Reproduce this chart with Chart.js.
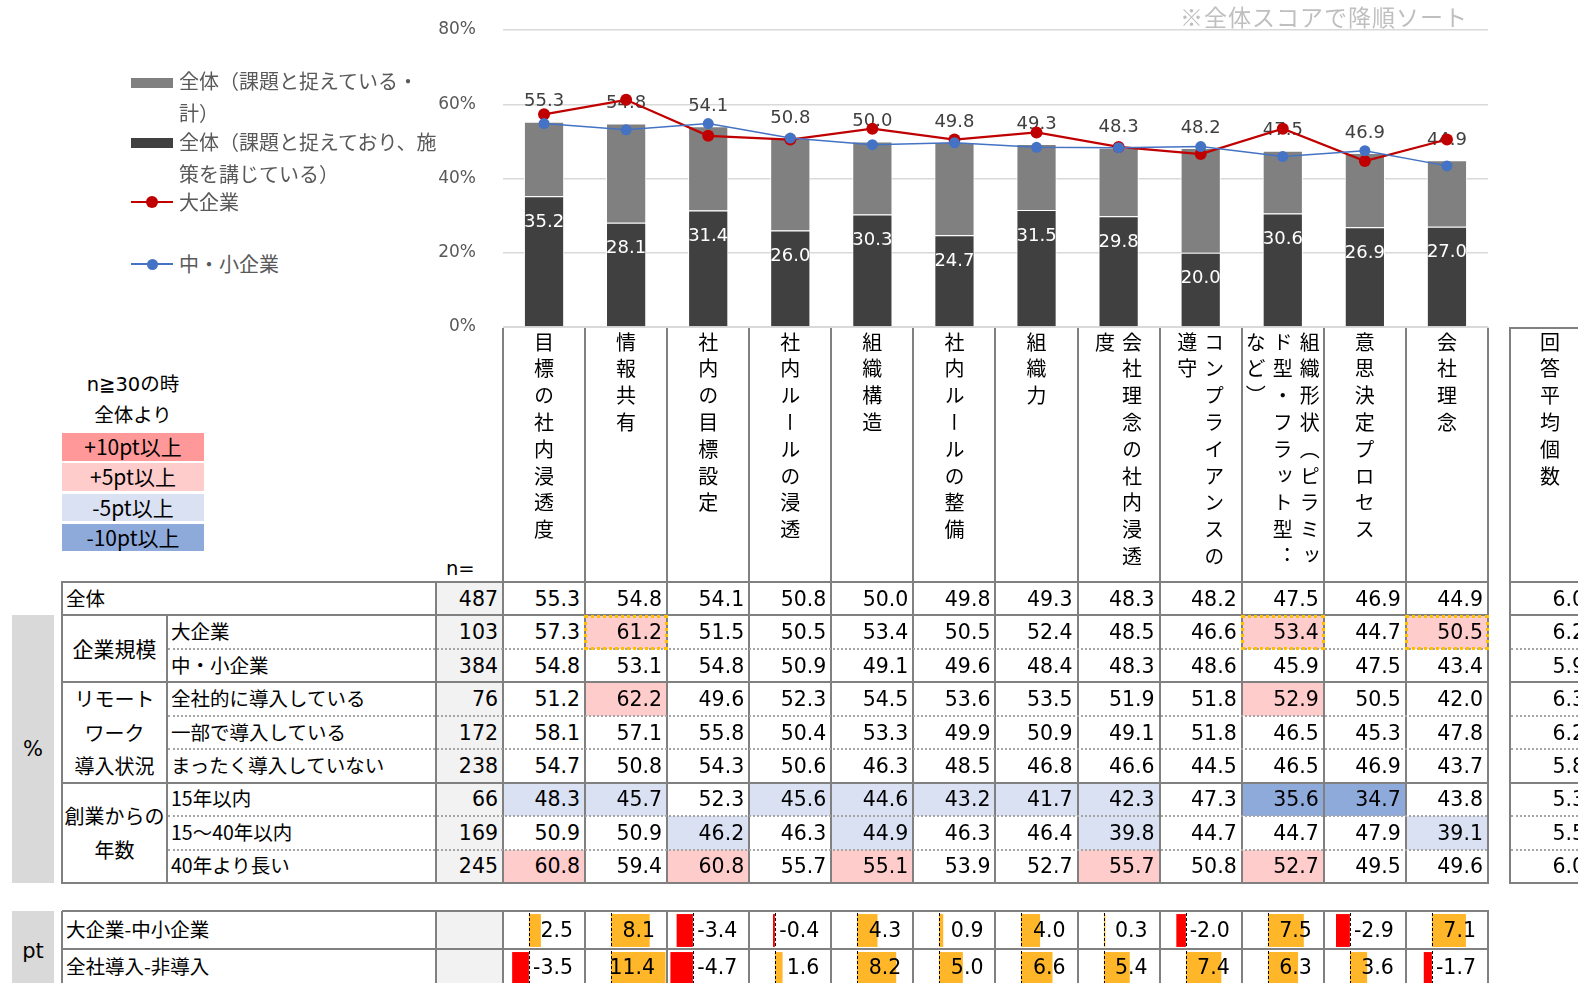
<!DOCTYPE html>
<html lang="ja">
<head>
<meta charset="utf-8">
<script src="https://cdn.jsdelivr.net/npm/chart.js@4.4.1/dist/chart.umd.min.js"></script>
<style>
html, body { margin: 0; padding: 0; background: #fff; }
body { width: 1578px; height: 983px; overflow: hidden; position: relative;
       font-family: "Noto Sans CJK JP", sans-serif; color: #000; }
.abs { position: absolute; box-sizing: border-box; }
.num { font-family: "DejaVu Sans", "Noto Sans CJK JP", sans-serif; }
.vert { writing-mode: vertical-rl; font-size: 20px; letter-spacing: 6.8px; line-height: 27px; height: 248px; }
.nov { font-feature-settings: "vert" 0, "vrt2" 0; }
</style>
</head>
<body>
<div class="abs" style="left:420px;top:0;width:1080px;height:340px;">
  <canvas id="mainChart" width="1080" height="340"></canvas>
</div>
<script>
// chart data (%)
const categories = ['目標の社内浸透度', '情報共有', '社内の目標設定', '社内ルールの浸透', '組織構造', '社内ルールの整備',
  '組織力', '会社理念の社内浸透度', 'コンプライアンスの遵守', '組織形状（ピラミッド型・フラット型：など）', '意思決定プロセス', '会社理念'];
const scoreAll    = [55.3, 54.8, 54.1, 50.8, 50.0, 49.8, 49.3, 48.3, 48.2, 47.5, 46.9, 44.9];
const scoreActing = [35.2, 28.1, 31.4, 26.0, 30.3, 24.7, 31.5, 29.8, 20.0, 30.6, 26.9, 27.0];
const scoreLarge  = [57.3, 61.2, 51.5, 50.5, 53.4, 50.5, 52.4, 48.5, 46.6, 53.4, 44.7, 50.5];
const scoreSmall  = [54.8, 53.1, 54.8, 50.9, 49.1, 49.6, 48.4, 48.3, 48.6, 45.9, 47.5, 43.4];
const scoreRemoteAll  = [51.2, 62.2, 49.6, 52.3, 54.5, 53.6, 53.5, 51.9, 51.8, 52.9, 50.5, 42.0];
const scoreRemotePart = [58.1, 57.1, 55.8, 50.4, 53.3, 49.9, 50.9, 49.1, 51.8, 46.5, 45.3, 47.8];
const scoreRemoteNone = [54.7, 50.8, 54.3, 50.6, 46.3, 48.5, 46.8, 46.6, 44.5, 46.5, 46.9, 43.7];
const scoreFounded15  = [48.3, 45.7, 52.3, 45.6, 44.6, 43.2, 41.7, 42.3, 47.3, 35.6, 34.7, 43.8];
const scoreFounded40  = [50.9, 50.9, 46.2, 46.3, 44.9, 46.3, 46.4, 39.8, 44.7, 44.7, 47.9, 39.1];
const scoreFoundedOld = [60.8, 59.4, 60.8, 55.7, 55.1, 53.9, 52.7, 55.7, 50.8, 52.7, 49.5, 49.6];
const yTicks = [0, 20, 40, 60, 80];

// table rows
const rowLabels = ['全体', '大企業', '中・小企業', '全社的に導入している', '一部で導入している', 'まったく導入していない',
  '15年以内', '15～40年以内', '40年より長い'];
const rowN = [487, 103, 384, 76, 172, 238, 66, 169, 245];
const rowAvgCount = [6.0, 6.2, 5.9, 6.3, 6.2, 5.8, 5.3, 5.5, 6.0];
const ptLabels = ['大企業-中小企業', '全社導入-非導入'];
const ptLargeVsSmall    = [2.5, 8.1, -3.4, -0.4, 4.3, 0.9, 4.0, 0.3, -2.0, 7.5, -2.9, 7.1];
const ptRemoteAllVsNone = [-3.5, 11.4, -4.7, 1.6, 8.2, 5.0, 6.6, 5.4, 7.4, 6.3, 3.6, -1.7];

const rowScores = [scoreAll, scoreLarge, scoreSmall, scoreRemoteAll, scoreRemotePart, scoreRemoteNone,
  scoreFounded15, scoreFounded40, scoreFoundedOld];
const ptRows = [ptLargeVsSmall, ptRemoteAllVsNone];

// layout
const X_A = 62, X_B = 167, X_N = 436, X_D = 503, COL_W = 82.08, X_AVG = 1510, AVG_W = 80;
const Y_BODY = 582, ROW_H = 33.45;
const Y_PT = 911, PT_H = 37.5;
const LINE = '#808080';

function put(x, y, w, h, css, html) {
  const d = document.createElement('div');
  d.className = 'abs';
  Object.assign(d.style, { left: x + 'px', top: y + 'px', width: w + 'px', height: h + 'px' }, css || {});
  if (html !== undefined) d.innerHTML = html;
  document.body.appendChild(d);
  return d;
}
const colX = i => X_D + COL_W * i;
const rowY = r => Y_BODY + ROW_H * r;

function shade(v, base) {
  const d = v - base;
  if (d >= 10) return '#ff9999';
  if (d >= 5) return '#ffcccc';
  if (d <= -10) return '#8eaadb';
  if (d <= -5) return '#d9e1f2';
  return '';
}

// note
put(1060, 0, 408, 32, { textAlign: 'right', fontSize: '23px', lineHeight: '32px', color: '#bfbfbf', letterSpacing: '1px' },
  '※全体スコアで降順ソート');

// legend
const legTxt = { fontSize: '20px', lineHeight: '32px', color: '#595959', whiteSpace: 'nowrap' };
put(131, 78, 42, 10, { background: '#808080' });
put(179, 65, 270, 64, legTxt, '全体（課題と捉えている・<br>計）');
put(131, 138, 42, 10, { background: '#404040' });
put(179, 126, 270, 64, legTxt, '全体（課題と捉えており、施<br>策を講じている）');
put(131, 201, 42, 2, { background: '#c00000' });
put(146, 196, 12, 12, { background: '#c00000', borderRadius: '50%' });
put(179, 186, 200, 32, legTxt, '大企業');
put(131, 263, 42, 1.5, { background: '#4472c4' });
put(146.5, 258.5, 11, 11, { background: '#4472c4', borderRadius: '50%' });
put(179, 248, 200, 32, legTxt, '中・小企業');

// colour key
const keyTxt = { fontSize: '21px', textAlign: 'center', lineHeight: '27px' };
put(62, 368, 142, 30, Object.assign({}, keyTxt, { lineHeight: '30px', fontSize: '19.5px' }), '<span class="num">n≧30</span>の時');
put(62, 399, 142, 30, Object.assign({}, keyTxt, { lineHeight: '30px', fontSize: '19.5px' }), '全体より');
[['#ff9999', '+10pt以上'], ['#ffcccc', '+5pt以上'], ['#d9e1f2', '-5pt以上'], ['#8eaadb', '-10pt以上']].forEach((k, i) => {
  put(62, 433 + 30.3 * i, 142, 27.5, Object.assign({ background: k[0] }, keyTxt), k[1]);
});

// header texts
categories.forEach((c, i) => {
  const h = put(colX(i), 332, COL_W, 248, { display: 'flex', justifyContent: 'center' });
  h.innerHTML = '<div class="vert">' + c.replace('：', '<span class="nov">：</span>') + '</div>';
});
const hAvg = put(X_AVG, 332, AVG_W, 248, { display: 'flex', justifyContent: 'center' });
hAvg.innerHTML = '<div class="vert">回答平均個数</div>';
put(446, 553, 45, 28, { fontSize: '19.5px', lineHeight: '28px' }, '<span class="num">n=</span>');

// side boxes
const sideCss = { background: '#d9d9d9', display: 'flex', alignItems: 'center', justifyContent: 'center', fontSize: '21px' };
put(12, rowY(1), 42, rowY(9) - rowY(1), sideCss, '<span class="num">%</span>');
put(12, Y_PT, 42, 80, sideCss, '<span class="num">pt</span>');

// body fills
put(X_N, Y_BODY, X_D - X_N, rowY(9) - Y_BODY, { background: '#f2f2f2' });
rowScores.forEach((vals, r) => {
  if (r === 0) return;
  vals.forEach((v, i) => {
    const bg = shade(v, scoreAll[i]);
    if (bg) put(colX(i), rowY(r), COL_W, ROW_H, { background: bg });
  });
});

// body texts
const cellTxt = { display: 'flex', alignItems: 'center', fontSize: '20.5px', whiteSpace: 'nowrap' };
const labTxt = { display: 'flex', alignItems: 'center', fontSize: '19.5px', whiteSpace: 'nowrap', paddingLeft: '4px', paddingBottom: '3px' };
put(X_A, rowY(0), X_N - X_A, ROW_H, labTxt, rowLabels[0]);
rowLabels.slice(1).forEach((l, k) => put(X_B, rowY(k + 1), X_N - X_B, ROW_H, labTxt, l));
const grpTxt = { display: 'flex', alignItems: 'center', justifyContent: 'center', textAlign: 'center',
  fontSize: '20px', lineHeight: ROW_H + 'px' };
put(X_A, rowY(1), X_B - X_A, ROW_H * 2, Object.assign({}, grpTxt, { fontSize: '21px' }), '企業規模');
put(X_A, rowY(3), X_B - X_A, ROW_H * 3, grpTxt, 'リモート<br>ワーク<br>導入状況');
put(X_A, rowY(6), X_B - X_A, ROW_H * 3, grpTxt, '創業からの<br>年数');
const numTxt = Object.assign({ justifyContent: 'flex-end', paddingRight: '5px' }, cellTxt);
rowN.forEach((n, r) => put(X_N, rowY(r), X_D - X_N, ROW_H, numTxt, '<span class="num">' + n + '</span>'));
rowScores.forEach((vals, r) => vals.forEach((v, i) =>
  put(colX(i), rowY(r), COL_W, ROW_H, numTxt, '<span class="num">' + v.toFixed(1) + '</span>')));
rowAvgCount.forEach((v, r) => put(X_AVG, rowY(r), AVG_W, ROW_H, numTxt, '<span class="num">' + v.toFixed(1) + '</span>'));

// lines
function hLine(x1, x2, y, dotted) {
  if (dotted) put(x1, y - 1, x2 - x1, 2, { borderTop: '2px dotted #a6a6a6' });
  else put(x1, y - 1, x2 - x1, 2, { background: LINE });
}
function vLine(x, y1, y2) { put(x - 1, y1, 2, y2 - y1, { background: LINE }); }
for (let i = 0; i <= 12; i++) vLine(colX(i), 328, rowY(9) + 1);
vLine(X_AVG, 327, rowY(9) + 1);
hLine(X_AVG, 1578, 328, false);
vLine(X_A, Y_BODY - 1, rowY(9) + 1);
vLine(X_N, Y_BODY - 1, rowY(9) + 1);
vLine(X_B, rowY(1), rowY(9));
[0, 1, 3, 6, 9].forEach(r => { hLine(X_A, colX(12) + 1, rowY(r), false); hLine(X_AVG - 1, 1578, rowY(r), false); });
[2, 4, 5, 7, 8].forEach(r => { hLine(X_B + 1, colX(12) - 1, rowY(r), true); hLine(X_AVG + 1, 1578, rowY(r), true); });

// highlight (大企業 row, +5pt and above)
scoreLarge.forEach((v, i) => {
  if (v - scoreAll[i] >= 5) put(colX(i) - 1, rowY(1), COL_W + 2, ROW_H + 1, { border: '3.5px dotted #ffc000' });
});

// pt table
put(X_N, Y_PT, X_D - X_N, PT_H * 2, { background: '#f2f2f2' });
ptLabels.forEach((l, r) => put(X_A, Y_PT + PT_H * r, X_N - X_A, PT_H, labTxt, l));

const PT_MIN = -5.2, PT_MAX = 11.5;
const zeroLine = {
  id: 'zeroLine',
  afterDatasetsDraw(chart) {
    const x = Math.round(chart.scales.x.getPixelForValue(0)) + 0.5;
    const c = chart.ctx;
    c.save();
    c.strokeStyle = '#000';
    c.lineWidth = 1;
    c.setLineDash([3, 2]);
    c.beginPath();
    c.moveTo(x, 0);
    c.lineTo(x, chart.height);
    c.stroke();
    c.restore();
  }
};
ptRows.forEach((vals, r) => vals.forEach((v, i) => {
  const holder = put(colX(i) + 1, Y_PT + PT_H * r + 2, 80, PT_H - 3, {});
  const cv = document.createElement('canvas');
  cv.width = 80; cv.height = Math.round(PT_H - 3);
  holder.appendChild(cv);
  new Chart(cv, {
    type: 'bar',
    data: {
      labels: [categories[i]],
      datasets: [{ data: [v], backgroundColor: v < 0 ? '#ff0000' : '#ffb628', barPercentage: 1, categoryPercentage: 0.94 }]
    },
    options: {
      indexAxis: 'y', responsive: false, animation: false, devicePixelRatio: 1,
      layout: { padding: 0 },
      plugins: { legend: { display: false }, tooltip: { enabled: false } },
      scales: { x: { display: false, min: PT_MIN, max: PT_MAX }, y: { display: false } }
    },
    plugins: [zeroLine]
  });
  put(colX(i), Y_PT + PT_H * r, COL_W, PT_H, Object.assign({}, cellTxt, { justifyContent: 'flex-end', paddingRight: '12px' }),
    '<span class="num">' + v.toFixed(1) + '</span>');
}));
hLine(X_A, colX(12) + 1, Y_PT, false);
hLine(X_A, colX(12) + 1, Y_PT + PT_H, false);
hLine(X_A, colX(12) + 1, Y_PT + PT_H * 2, false);
vLine(X_A, Y_PT, 990);
vLine(X_N, Y_PT, 990);
for (let i = 0; i <= 12; i++) vLine(colX(i), Y_PT, 990);

// main chart
const barLabels = {
  id: 'barLabels',
  beforeDatasetDraw(chart, args) {
    if (args.index !== 1) return;
    const dark = chart.getDatasetMeta(2).data, grey = chart.getDatasetMeta(3).data;
    const c = chart.ctx;
    c.save();
    c.font = '18px "DejaVu Sans"';
    c.textAlign = 'center';
    c.textBaseline = 'middle';
    dark.forEach((bar, i) => {
      c.fillStyle = '#404040';
      c.fillText(scoreAll[i].toFixed(1), grey[i].x, grey[i].y - 20);
      c.fillStyle = '#ffffff';
      c.fillText(scoreActing[i].toFixed(1), bar.x, bar.y + 26);
    });
    c.restore();
  }
};

new Chart(document.getElementById('mainChart'), {
  type: 'bar',
  data: {
    labels: categories,
    datasets: [
      { type: 'line', label: '中・小企業', data: scoreSmall, borderColor: '#4472c4', backgroundColor: '#4472c4',
        borderWidth: 1.5, pointRadius: 5.5, pointBorderWidth: 0, order: 0, stack: 'small' },
      { type: 'line', label: '大企業', data: scoreLarge, borderColor: '#c00000', backgroundColor: '#c00000',
        borderWidth: 2.25, pointRadius: 6, pointBorderWidth: 0, order: 1, stack: 'large' },
      { label: '全体（課題と捉えており、施策を講じている）', data: scoreActing, backgroundColor: '#404040',
        borderColor: '#ffffff', borderWidth: 1, order: 2, stack: 'all' },
      { label: '全体（課題と捉えている・計）', data: scoreAll.map((v, i) => +(v - scoreActing[i]).toFixed(1)),
        backgroundColor: '#808080', borderColor: '#ffffff', borderWidth: 1, order: 2, stack: 'all' }
    ]
  },
  options: {
    responsive: false, animation: false, devicePixelRatio: 1,
    layout: { padding: { top: 30, right: 12, bottom: 0, left: 0 } },
    datasets: { bar: { barPercentage: 0.49, categoryPercentage: 1 } },
    plugins: { legend: { display: false }, tooltip: { enabled: false } },
    scales: {
      x: {
        stacked: true,
        ticks: { display: false },
        grid: { drawOnChartArea: false, drawTicks: true, tickLength: 6, color: '#d9d9d9', offset: true },
        border: { color: '#d9d9d9' },
        afterFit: s => { s.height = 13; }
      },
      y: {
        stacked: true,
        min: yTicks[0], max: yTicks[yTicks.length - 1],
        afterBuildTicks: s => { s.ticks = yTicks.map(v => ({ value: v })); },
        ticks: { callback: v => v + '%', color: '#595959', padding: 0, font: { size: 17, family: 'DejaVu Sans' } },
        grid: { color: '#d9d9d9', lineWidth: 1.5, drawTicks: true, tickLength: 27, tickColor: 'rgba(0,0,0,0)' },
        border: { display: false },
        afterFit: s => { s.width = 83; }
      }
    }
  },
  plugins: [barLabels]
});
</script>
</body>
</html>
